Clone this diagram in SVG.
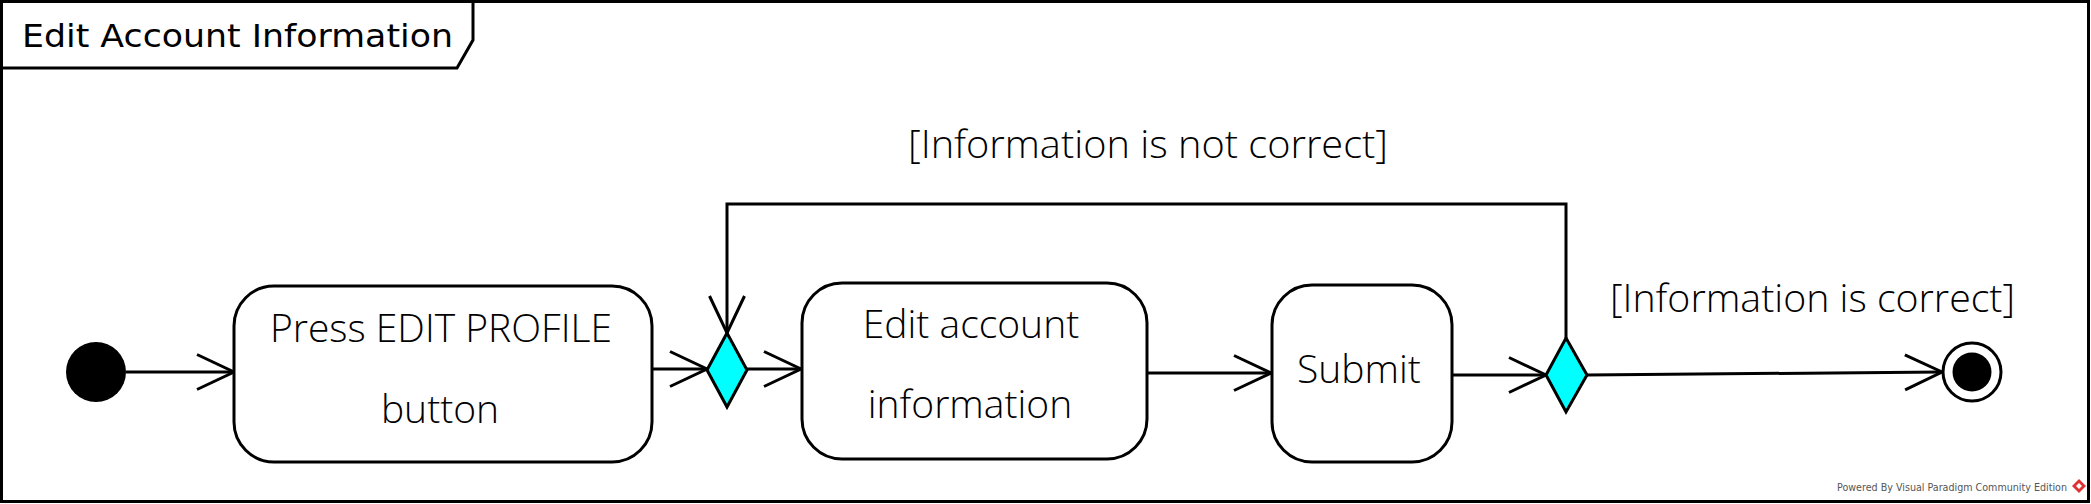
<svg xmlns="http://www.w3.org/2000/svg" width="2091" height="504" viewBox="0 0 2091 504">
<style>
.ln{fill:none;stroke:#000;stroke-width:3}
.act{fill:#fff;stroke:#000;stroke-width:3}
.dec{fill:#00ffff;stroke:#000;stroke-width:3;stroke-linejoin:miter}
.t{font-family:"Open Sans","Noto Sans",sans-serif;font-weight:300;font-size:39px;fill:#000;text-anchor:middle}
.g{font-family:"Open Sans","Noto Sans",sans-serif;font-weight:300;font-size:38px;fill:#000}
</style>
<defs>
<marker id="open" viewBox="-2 -2 42 40" refX="37" refY="17.5" markerWidth="42" markerHeight="40" markerUnits="userSpaceOnUse" orient="auto" overflow="visible">
<path d="M0,0 L37,17.5 L0,35" fill="none" stroke="#000" stroke-width="3"/>
</marker>
</defs>
<rect x="0" y="0" width="2091" height="504" fill="#fff"/>
<g id="frame">
<rect x="1.5" y="1.5" width="2087" height="500" fill="none" stroke="#000" stroke-width="3"/>
<path d="M1.5,68 L457,68 L473,40 L473,1.5" class="ln"/>
<text x="22" y="47" font-family="DejaVu Sans,sans-serif" font-size="32" fill="#000" textLength="431" lengthAdjust="spacingAndGlyphs">Edit Account Information</text>
</g>
<g id="connectors">
<path class="ln" d="M126,372 L234,372" marker-end="url(#open)"/>
<path class="ln" d="M652,369 L707,369" marker-end="url(#open)"/>
<path class="ln" d="M747,369 L801,369" marker-end="url(#open)"/>
<path class="ln" d="M1147,373 L1271,373" marker-end="url(#open)"/>
<path class="ln" d="M1452,375 L1546,375" marker-end="url(#open)"/>
<path class="ln" d="M1587,375 L1942,372" marker-end="url(#open)"/>
<path class="ln" d="M1566,338 L1566,204 L727,204 L727,333" marker-end="url(#open)"/>
<text class="g" x="908" y="158" textLength="480" lengthAdjust="spacingAndGlyphs">[Information is not correct]</text>
<text class="g" x="1610" y="312" textLength="405" lengthAdjust="spacingAndGlyphs">[Information is correct]</text>
</g>
<g id="initial">
<circle cx="96" cy="372" r="30" fill="#000"/>
</g>
<g id="press">
<rect class="act" x="234" y="286" width="418" height="176" rx="40" ry="40"/>
<text class="t" x="441" y="342">Press EDIT PROFILE</text>
<text class="t" x="440" y="423">button</text>
</g>
<g id="merge">
<path class="dec" d="M727,333 L747,370 L727,407 L707,370 Z"/>
</g>
<g id="edit">
<rect class="act" x="802" y="283" width="345" height="176" rx="40" ry="40"/>
<text class="t" x="971" y="338">Edit account</text>
<text class="t" x="970" y="418">information</text>
</g>
<g id="submit">
<rect class="act" x="1272" y="285" width="180" height="177" rx="40" ry="40"/>
<text class="t" x="1359" y="383">Submit</text>
</g>
<g id="decision">
<path class="dec" d="M1566,338 L1587,375 L1566,412 L1546,375 Z"/>
</g>
<g id="final">
<circle cx="1972" cy="372" r="29" fill="#fff" stroke="#000" stroke-width="3"/>
<circle cx="1972" cy="372" r="19.5" fill="#000"/>
</g>
<g id="watermark">
<text x="2067" y="491" font-family="DejaVu Sans,sans-serif" font-size="11" fill="#555" text-anchor="end" textLength="230" lengthAdjust="spacingAndGlyphs">Powered By Visual Paradigm Community Edition</text>
<path d="M2079,479 L2086,486 L2079,493 L2072,486 Z" fill="#d33"/>
<path d="M2079,483 L2082,486 L2079,489 L2076,486 Z" fill="#fff"/>
</g>
</svg>
